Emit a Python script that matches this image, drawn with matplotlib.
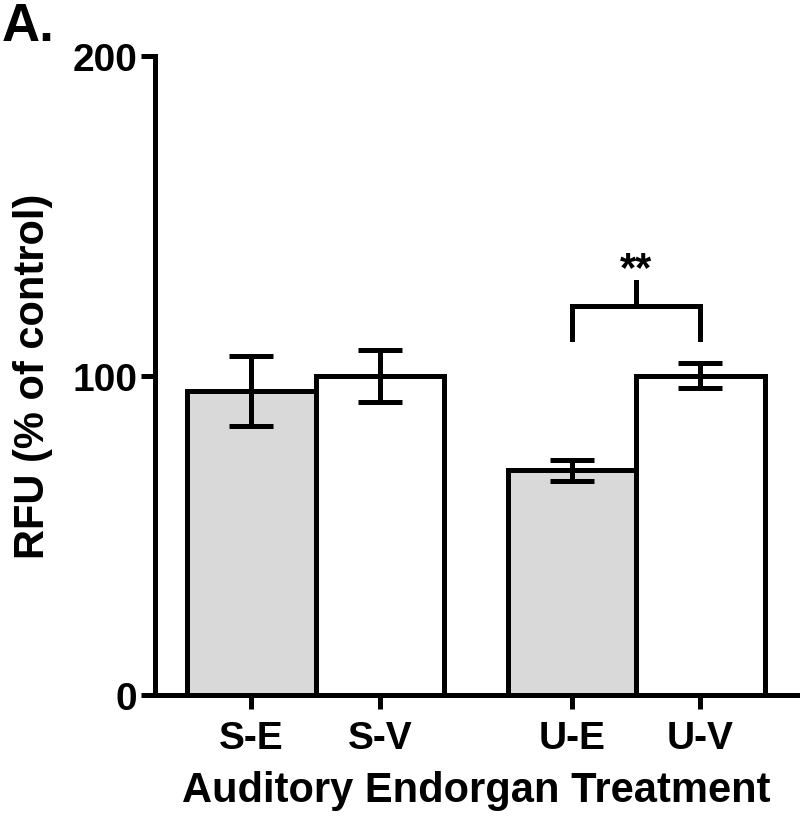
import matplotlib.pyplot as plt
import numpy as np

plt.rcParams['font.family'] = ['Liberation Sans', 'DejaVu Sans']
plt.rcParams['font.weight'] = 'bold'

groups = ['S-E', 'S-V', 'U-E', 'U-V']
xpos = [0, 1, 2.5, 3.5]
means = [95.1, 99.9, 70.4, 100.0]
errs = [11.0, 8.2, 3.3, 3.9]
colors = ['#d9d9d9', 'white', '#d9d9d9', 'white']

lw = 3.6

fig = plt.figure(figsize=(8, 8.29), dpi=100)
ax = fig.add_axes([0.194, 0.1604, 0.8035, 0.7708])

ax.bar(xpos, means, width=1.0, color=colors, edgecolor='black', linewidth=lw, zorder=2)
ax.errorbar(xpos, means, yerr=errs, fmt='none', ecolor='black', elinewidth=lw,
            capsize=16, capthick=lw, zorder=3)

# значимость между U-E и U-V
bx1, bx2 = xpos[2], xpos[3]
ax.plot([bx1, bx1, bx2, bx2], [111.4, 121.8, 121.8, 111.4], color='black', lw=lw,
        solid_joinstyle='miter', clip_on=False)
ax.plot([(bx1 + bx2) / 2] * 2, [121.8, 129.3], color='black', lw=lw)
ax.text((bx1 + bx2) / 2, 127, '**', ha='center', va='bottom', fontsize=30, fontweight='bold')

ax.set_xlim(-0.75, 4.26)
ax.set_ylim(0, 200)
ax.set_yticks([0, 100, 200])
ax.set_xticks(xpos)
ax.set_xticklabels(groups)
ax.tick_params(axis='both', width=lw, length=10, labelsize=28)
ax.tick_params(axis='x', pad=8)
ax.tick_params(axis='y', pad=3)
for s in ['top', 'right']:
    ax.spines[s].set_visible(False)
for s in ['left', 'bottom']:
    ax.spines[s].set_linewidth(lw)

ax.set_xlabel('Auditory Endorgan Treatment', fontsize=30, fontweight='bold', labelpad=10)
ax.set_ylabel('RFU (% of control)', fontsize=30, fontweight='bold', labelpad=14)

fig.text(0.002, 0.998, 'A.', fontsize=38, fontweight='bold', ha='left', va='top')

fig.savefig('out.png', dpi=100)
